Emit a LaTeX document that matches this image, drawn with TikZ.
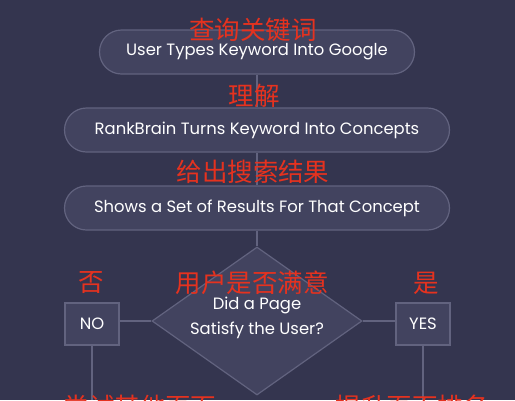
\documentclass[tikz,border=0pt]{standalone}
\usepackage{fontspec}
\setmainfont{Poppins}
\newfontfamily\cjk{Noto Sans CJK SC}
\usetikzlibrary{shapes.geometric}
\definecolor{bgc}{HTML}{34354F}
\definecolor{boxc}{HTML}{42435F}
\definecolor{edgec}{HTML}{62637F}
\definecolor{redc}{HTML}{E5321F}
\tikzset{
  pill/.style={draw=edgec, line width=1.2pt, fill=boxc, rounded corners=22pt, minimum height=44pt, text=white, font=\fontsize{16.4}{18}\selectfont},
  sq/.style={draw=edgec, line width=1.2pt, fill=boxc, minimum width=54pt, minimum height=42pt, text=white, font=\fontsize{16.4}{18}\selectfont},
  lbl/.style={text=redc, font=\cjk\fontsize{25.5}{27}\selectfont},
  conn/.style={draw=edgec, line width=1.2pt}
}
\begin{document}
\begin{tikzpicture}[x=1pt,y=-1pt]
\path[fill=bgc] (0,0) rectangle (515,400);
\useasboundingbox (0,0) rectangle (515,400);
\begin{scope}
\clip (0,0) rectangle (515,400);
\node[pill, minimum width=315pt] (b1) at (257,52) {User Types Keyword Into Google};
\node[pill, minimum width=385pt] (b2) at (257,130) {RankBrain Turns Keyword Into Concepts};
\node[pill, minimum width=385pt] (b3) at (257,208) {Shows a Set of Results For That Concept};
\node[diamond, draw=edgec, line width=1.2pt, fill=boxc, minimum width=210pt, minimum height=148pt, inner sep=0pt] (d) at (257,321) {};
\node[text=white, align=center, font=\fontsize{16.4}{25}\selectfont] (dt) at (257,318) {Did a Page\\Satisfy the User?};
\node[sq] (no) at (92,324) {NO};
\node[sq] (yes) at (423,324) {YES};
\coordinate (noend) at (92,400);
\coordinate (yesend) at (423,400);
\draw[conn] (b1.south) -- (b2.north);
\draw[conn] (b2.south) -- (b3.north);
\draw[conn] (b3.south) -- (d.north);
\draw[conn] (no.east |- d.west) -- (d.west);
\draw[conn] (d.east) -- (yes.west |- d.east);
\draw[conn] (no.south) -- (noend);
\draw[conn] (yes.south) -- (yesend);
\node[lbl] (l1) at (253,30) {查询关键词};
\node[lbl] (l2) at (254,96) {理解};
\node[lbl] (l3) at (253,172) {给出搜索结果};
\node[lbl] (l4) at (252,283) {用户是否满意};
\node[lbl] (l5) at (91,283) {否};
\node[lbl] (l6) at (426,283) {是};
\node[lbl] (l7) at (140,407) {尝试其他页面};
\node[lbl] (l8) at (412,407) {提升页面排名};
\end{scope}
\end{tikzpicture}
\end{document}
